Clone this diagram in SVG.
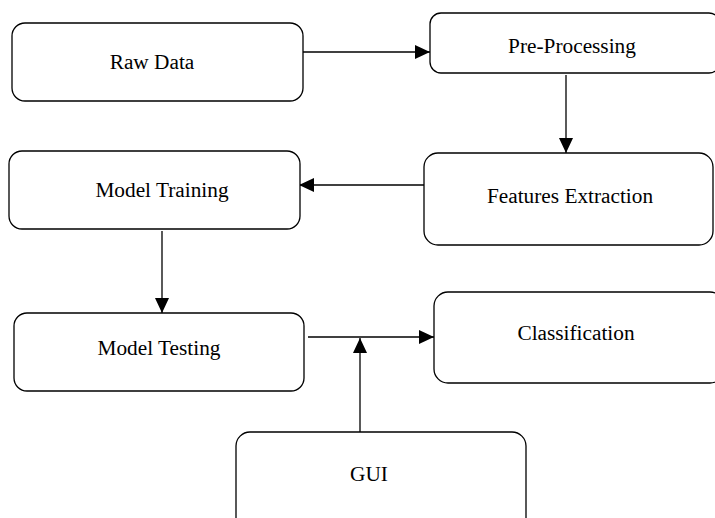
<svg xmlns="http://www.w3.org/2000/svg" width="715" height="518" viewBox="0 0 715 518">
<style>
.box{fill:#fff;stroke:#000;stroke-width:1.3}
.lbl{font-family:"Liberation Serif","Times New Roman",serif;font-size:21.3px;fill:#000;text-anchor:middle}
.con{stroke:#000;stroke-width:1.3;fill:none}
</style>
<defs>
<marker id="ah" markerWidth="15" markerHeight="14" refX="15" refY="7" orient="auto" markerUnits="userSpaceOnUse">
<path d="M0,0 L15,7 L0,14 Z" fill="#000"/>
</marker>
</defs>
<rect width="715" height="518" fill="#fff"/>
<g id="connectors">
<line class="con" x1="303" y1="52" x2="430" y2="52" marker-end="url(#ah)"/>
<line class="con" x1="566" y1="75" x2="566" y2="153" marker-end="url(#ah)"/>
<line class="con" x1="424" y1="185" x2="299" y2="185" marker-end="url(#ah)"/>
<line class="con" x1="162" y1="231" x2="162" y2="313" marker-end="url(#ah)"/>
<line class="con" x1="308" y1="337" x2="434" y2="337" marker-end="url(#ah)"/>
<line class="con" x1="360" y1="432" x2="360" y2="338" marker-end="url(#ah)"/>
</g>
<g id="raw-data"><rect class="box" x="12" y="23" width="291" height="78" rx="13"/><text class="lbl" x="152" y="69">Raw Data</text></g>
<g id="pre-processing"><rect class="box" x="430" y="13" width="290" height="60" rx="11"/><text class="lbl" x="572" y="53">Pre-Processing</text></g>
<g id="features-extraction"><rect class="box" x="424" y="153" width="289" height="92" rx="14"/><text class="lbl" x="570" y="203">Features Extraction</text></g>
<g id="model-training"><rect class="box" x="9" y="151" width="291" height="78" rx="13"/><text class="lbl" x="162" y="197">Model Training</text></g>
<g id="model-testing"><rect class="box" x="14" y="313" width="290" height="78" rx="13"/><text class="lbl" x="159" y="355">Model Testing</text></g>
<g id="classification"><rect class="box" x="434" y="292" width="290" height="91" rx="14"/><text class="lbl" x="576" y="340">Classification</text></g>
<g id="gui"><rect class="box" x="236" y="432" width="290" height="100" rx="14"/><text class="lbl" x="369" y="481">GUI</text></g>
</svg>
